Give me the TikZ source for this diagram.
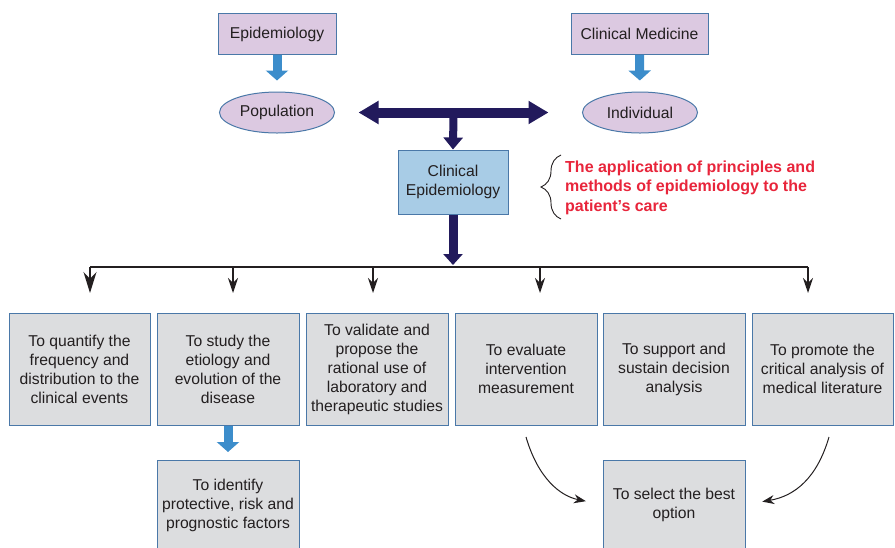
\documentclass[tikz,border=0pt]{standalone}
\usepackage{fontspec}
\setmainfont{Liberation Sans}
\usetikzlibrary{arrows.meta,decorations.pathreplacing,shapes.geometric}
\definecolor{purplefill}{HTML}{DCC9E1}
\definecolor{boxedge}{HTML}{4A78A8}
\definecolor{ceblue}{HTML}{A8CCE6}
\definecolor{grayfill}{HTML}{DCDDDF}
\definecolor{blockblue}{HTML}{3C8DCB}
\definecolor{navy}{HTML}{221A5C}
\definecolor{redtext}{HTML}{E8253B}
\definecolor{ink}{HTML}{231F20}
\begin{document}
\begin{tikzpicture}[x=1pt,y=-1pt,
  font=\fontsize{15.7}{19}\selectfont, text=ink,
  topbox/.style={draw=boxedge, line width=1pt, fill=purplefill, minimum width=118pt, minimum height=41pt, inner sep=0pt},
  ell/.style={ellipse, draw=boxedge, line width=1pt, fill=purplefill, minimum width=115pt, minimum height=41pt, inner sep=0pt},
  cebox/.style={draw=boxedge, line width=1pt, fill=ceblue, minimum width=110pt, minimum height=64pt, inner sep=0pt, align=center},
  graybox/.style={draw=boxedge, line width=1pt, fill=grayfill, minimum width=142pt, minimum height=112pt, inner sep=0pt, align=center},
  blockarrow/.style={draw=blockblue, line width=9pt, -{Triangle[length=10pt,width=22pt]}},
  navyarrow/.style={draw=navy, line width=9pt},
  thinarrow/.style={draw=ink, line width=1.3pt, -{Stealth[length=15pt,width=10pt]}},
  curvearrow/.style={draw=ink, line width=1pt, -{Stealth[length=12pt,width=9pt]}},
  redlabel/.style={text=redtext, font=\fontsize{16}{19.5}\selectfont\bfseries, align=left, inner sep=0pt}
]
\useasboundingbox (0,0) rectangle (895,547);
\clip (0,0) rectangle (895,547);

% top level
\node[topbox] (epi) at (277,34) {Epidemiology};
\node[topbox, minimum width=137pt] (clin) at (639.5,34) {Clinical Medicine};
\node[ell] (pop) at (277,112.5) {Population};
\node[ell] (ind) at (640,112.5) {Individual};
\draw[blockarrow, shorten >=11pt] (epi.south) -- (pop.north);
\draw[blockarrow, shorten >=11pt] (clin.south) -- (ind.north);

% clinical epidemiology
\node[cebox] (ce) at (453,182) {Clinical\\Epidemiology};
\coordinate (mid) at (453.5,112);
\draw[navyarrow, line width=10pt, {Triangle[length=20pt,width=22pt]}-{Triangle[length=20pt,width=22pt]}, shorten <=23.5pt, shorten >=33.5pt] (pop.east) -- (ind.west);
\draw[navyarrow, line width=8pt, -{Triangle[length=12pt,width=19pt]}] (mid) -- (ce.north);

% red definition
\draw[decorate, decoration={brace, amplitude=20pt}, draw=ink, line width=0.9pt] (561,219) -- (561,155);
\node[redlabel, anchor=west] (def) at (565,187.5) {The application of principles and\\methods of epidemiology to the\\patient’s care};

% tree
\coordinate (hub) at (453,267);
\coordinate (t1) at (90,267);
\coordinate (t2) at (233,267);
\coordinate (t3) at (373,267);
\coordinate (t4) at (540,267);
\coordinate (t5) at (808,267);
\draw[navyarrow, line width=9pt, -{Triangle[length=11pt,width=19pt]}, shorten >=2pt] (ce.south) -- (hub);
\draw[draw=ink, line width=1.3pt] (t1) -- (t5);
\coordinate (a1) at (90,293);
\coordinate (a2) at (233,293);
\coordinate (a3) at (373,293);
\coordinate (a4) at (540,293);
\coordinate (a5) at (808,293);
\draw[thinarrow, -{Stealth[length=21pt,width=13pt]}] (t1) -- (a1);
\draw[thinarrow] (t2) -- (a2);
\draw[thinarrow] (t3) -- (a3);
\draw[thinarrow] (t4) -- (a4);
\draw[thinarrow] (t5) -- (a5);

% bottom boxes
\node[graybox, minimum width=141pt] (b1) at (79.5,369) {To quantify the\\frequency and\\distribution to the\\clinical events};
\node[graybox] (b2) at (228,369) {To study the\\etiology and\\evolution of the\\disease};
\node[graybox] (b3) at (377,369) {To validate and\\propose the\\rational use of\\laboratory and\\therapeutic studies};
\node[graybox] (b4) at (526,369) {To evaluate\\intervention\\measurement};
\node[graybox] (b5) at (674,369) {To support and\\sustain decision\\analysis};
\node[graybox, minimum width=141pt] (b6) at (822.5,369) {To promote the\\critical analysis of\\medical literature};

\node[graybox, minimum height=90pt, anchor=north] (ident) at (228,460) {To identify\\protective, risk and\\prognostic factors};
\draw[blockarrow, shorten >=8pt] (b2.south) -- (ident.north);

\node[graybox, minimum height=88pt, anchor=north] (sel) at (674,460) {To select the best\\option};
\coordinate (c1) at (526,437);
\coordinate (c2) at (829,437);
\draw[curvearrow, shorten >=17pt] (c1) .. controls (538,478) and (560,496) .. (sel.west);
\draw[curvearrow, shorten >=17pt] (c2) .. controls (817,478) and (795,496) .. (sel.east);
\end{tikzpicture}
\end{document}
